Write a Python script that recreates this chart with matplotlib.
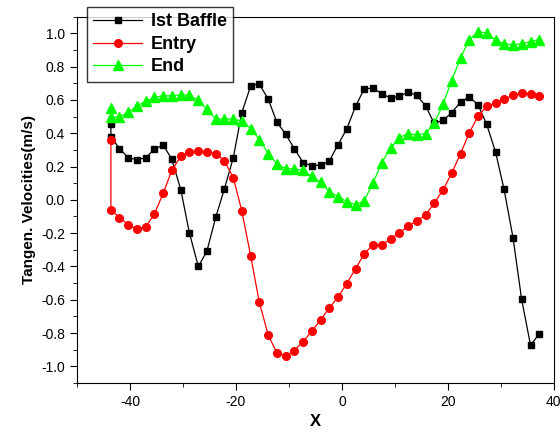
import numpy as np
import matplotlib
matplotlib.use('Agg')
import matplotlib.pyplot as plt
from matplotlib.ticker import MultipleLocator, FormatStrFormatter

plt.rcParams['font.family'] = ['Liberation Sans', 'DejaVu Sans']
plt.rcParams['axes.unicode_minus'] = False

# posiciones X (50 puntos, el primero repetido)
x_pts = [-43.6, -42.0, -40.3, -38.7, -37.0, -35.4, -33.7, -32.1, -30.4, -28.8,
         -27.1, -25.5, -23.8, -22.2, -20.5, -18.9, -17.2, -15.6, -13.9, -12.3,
         -10.6, -9.0, -7.3, -5.7, -4.0, -2.4, -0.7, 0.9, 2.6, 4.2,
         5.9, 7.5, 9.2, 10.8, 12.5, 14.1, 15.8, 17.4, 19.1, 20.7,
         22.4, 24.0, 25.7, 27.3, 29.0, 30.6, 32.3, 33.9, 35.6, 37.2]

baffle = [0.453, 0.308, 0.253, 0.241, 0.253, 0.305, 0.328, 0.243, 0.060, -0.197,
          -0.40, -0.31, -0.103, 0.064, 0.253, 0.523, 0.686, 0.696, 0.604, 0.468,
          0.394, 0.308, 0.223, 0.205, 0.209, 0.233, 0.332, 0.426, 0.563, 0.666,
          0.672, 0.637, 0.611, 0.623, 0.646, 0.628, 0.565, 0.46, 0.477, 0.523,
          0.587, 0.619, 0.571, 0.456, 0.287, 0.064, -0.228, -0.594, -0.873, -0.807]
baffle_first = 0.38

entry = [-0.06, -0.107, -0.149, -0.175, -0.161, -0.085, 0.042, 0.177, 0.261, 0.287,
         0.293, 0.29, 0.278, 0.235, 0.133, -0.065, -0.34, -0.614, -0.813, -0.917,
         -0.94, -0.905, -0.851, -0.789, -0.72, -0.65, -0.583, -0.503, -0.413, -0.324,
         -0.27, -0.27, -0.235, -0.199, -0.159, -0.127, -0.091, -0.02, 0.06, 0.159,
         0.278, 0.40, 0.503, 0.561, 0.583, 0.605, 0.628, 0.642, 0.637, 0.625]
entry_first = 0.362

end = [0.495, 0.499, 0.525, 0.563, 0.593, 0.615, 0.625, 0.625, 0.631, 0.628,
       0.599, 0.545, 0.485, 0.485, 0.485, 0.474, 0.428, 0.362, 0.278, 0.217,
       0.187, 0.187, 0.177, 0.141, 0.106, 0.048, 0.02, -0.01, -0.03, -0.004,
       0.103, 0.223, 0.31, 0.374, 0.398, 0.39, 0.398, 0.459, 0.575, 0.716,
       0.853, 0.96, 1.01, 1.002, 0.96, 0.937, 0.931, 0.937, 0.951, 0.963]
end_first = 0.55

fig = plt.figure(figsize=(5.6, 4.36), dpi=100)
ax = fig.add_axes([0.1375, 0.1216, 0.8515, 0.8401])

xx = [x_pts[0]] + x_pts
ax.plot(xx, [baffle[0], baffle_first] + baffle[1:], color='black', lw=0.9,
        marker='s', ms=5, label='Ist Baffle')
ax.plot(xx, [entry_first] + entry, color='red', lw=0.9,
        marker='o', ms=5.5, label='Entry')
ax.plot(xx, [end_first] + end, color='#00ff00', lw=0.9,
        marker='^', ms=7, label='End')

ax.set_xlim(-50, 40)
ax.set_ylim(-1.1, 1.1)
ax.xaxis.set_major_locator(MultipleLocator(20))
ax.xaxis.set_minor_locator(MultipleLocator(10))
ax.yaxis.set_major_locator(MultipleLocator(0.2))
ax.yaxis.set_minor_locator(MultipleLocator(0.1))
ax.yaxis.set_major_formatter(FormatStrFormatter('%.1f'))
ax.tick_params(which='both', direction='out', top=False, right=False, labelsize=10)
ax.tick_params(which='major', length=5)
ax.tick_params(which='minor', length=3)

ax.set_xlabel('X', fontsize=12, fontweight='bold')
ax.set_ylabel('Tangen. Velocities(m/s)', fontsize=11, fontweight='bold')

leg = ax.legend(loc='upper left', bbox_to_anchor=(0.021, 1.026), borderaxespad=0,
                frameon=True, fancybox=False, edgecolor='black',
                prop={'weight': 'bold', 'size': 13},
                handlelength=2.7, borderpad=0.35, labelspacing=0.3, handletextpad=0.5)
leg.get_frame().set_linewidth(1)

fig.savefig('out.png', dpi=100)
